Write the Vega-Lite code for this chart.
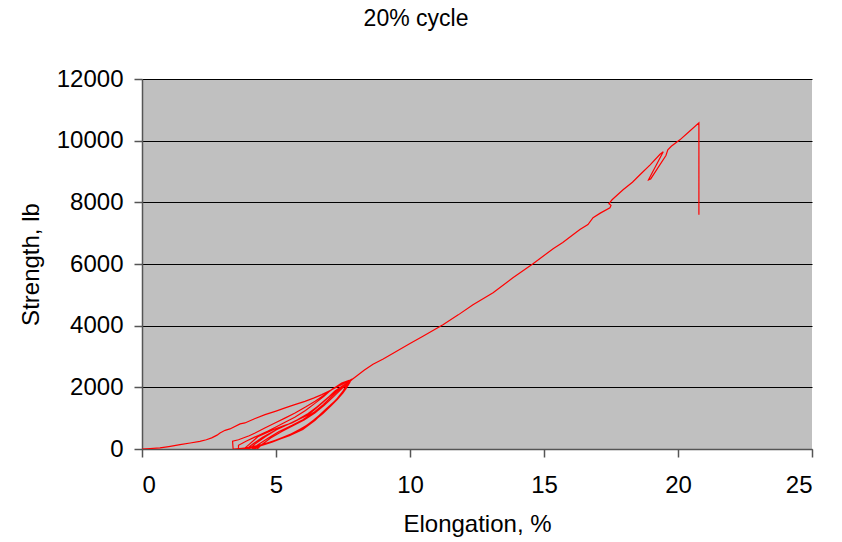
{
  "$schema": "https://vega.github.io/schema/vega-lite/v6.json",
  "width": 670,
  "height": 370,
  "autosize": "none",
  "padding": {"left": 142, "top": 79, "right": 30, "bottom": 92},
  "background": "white",
  "title": {
    "text": "20% cycle",
    "font": "Liberation Sans",
    "fontSize": 23,
    "fontWeight": "normal",
    "color": "black",
    "anchor": "middle",
    "frame": "bounds",
    "baseline": "alphabetic",
    "offset": 18
  },
  "config": {
    "font": "Liberation Sans",
    "view": {"fill": "#C0C0C0", "stroke": null},
    "axis": {
      "labelFont": "Liberation Sans",
      "titleFont": "Liberation Sans",
      "labelFontSize": 24,
      "titleFontSize": 24,
      "titleFontWeight": "normal",
      "labelColor": "black",
      "titleColor": "black",
      "domainColor": "#555555",
      "tickColor": "#555555",
      "tickSize": 8,
      "domainWidth": 1.5,
      "tickWidth": 1.5
    }
  },
  "data": {
    "values": [
      {"i": 0, "e": 0, "s": 0},
      {"i": 1, "e": 0.3, "s": 15},
      {"i": 2, "e": 0.67, "s": 36},
      {"i": 3, "e": 1.0, "s": 80},
      {"i": 4, "e": 1.42, "s": 143},
      {"i": 5, "e": 1.8, "s": 195},
      {"i": 6, "e": 2.16, "s": 250},
      {"i": 7, "e": 2.4, "s": 300},
      {"i": 8, "e": 2.6, "s": 360},
      {"i": 9, "e": 2.8, "s": 450},
      {"i": 10, "e": 2.91, "s": 522},
      {"i": 11, "e": 3.1, "s": 606},
      {"i": 12, "e": 3.28, "s": 651},
      {"i": 13, "e": 3.66, "s": 813},
      {"i": 14, "e": 3.84, "s": 845},
      {"i": 15, "e": 4.2, "s": 980},
      {"i": 16, "e": 4.59, "s": 1115},
      {"i": 17, "e": 5.0, "s": 1230},
      {"i": 18, "e": 5.34, "s": 1332},
      {"i": 19, "e": 5.7, "s": 1440},
      {"i": 20, "e": 6.08, "s": 1546},
      {"i": 21, "e": 6.4, "s": 1650},
      {"i": 22, "e": 6.71, "s": 1763},
      {"i": 23, "e": 7.0, "s": 1890},
      {"i": 24, "e": 7.2, "s": 1980},
      {"i": 25, "e": 7.57, "s": 2142},
      {"i": 26, "e": 7.8, "s": 2250},

      {"i": 27, "e": 7.75, "s": 2150},
      {"i": 28, "e": 7.6, "s": 1950},
      {"i": 29, "e": 7.45, "s": 1800},
      {"i": 30, "e": 7.3, "s": 1650},
      {"i": 31, "e": 7.1, "s": 1450},
      {"i": 32, "e": 6.83, "s": 1250},
      {"i": 33, "e": 6.46, "s": 930},
      {"i": 34, "e": 6.0, "s": 630},
      {"i": 35, "e": 5.5, "s": 430},
      {"i": 36, "e": 5.0, "s": 280},
      {"i": 37, "e": 4.47, "s": 140},
      {"i": 38, "e": 3.9, "s": 40},
      {"i": 39, "e": 3.45, "s": 0},
      {"i": 40, "e": 3.4, "s": 0},
      {"i": 41, "e": 3.38, "s": 250},
      {"i": 42, "e": 3.6, "s": 300},
      {"i": 43, "e": 4.0, "s": 430},
      {"i": 44, "e": 4.22, "s": 520},
      {"i": 45, "e": 4.6, "s": 690},
      {"i": 46, "e": 4.96, "s": 845},
      {"i": 47, "e": 5.35, "s": 1010},
      {"i": 48, "e": 5.71, "s": 1170},
      {"i": 49, "e": 6.1, "s": 1360},
      {"i": 50, "e": 6.46, "s": 1545},
      {"i": 51, "e": 6.8, "s": 1750},
      {"i": 52, "e": 7.08, "s": 1925},
      {"i": 53, "e": 7.45, "s": 2140},
      {"i": 54, "e": 7.7, "s": 2220},

      {"i": 55, "e": 7.68, "s": 2080},
      {"i": 56, "e": 7.55, "s": 1900},
      {"i": 57, "e": 7.4, "s": 1730},
      {"i": 58, "e": 7.2, "s": 1560},
      {"i": 59, "e": 6.95, "s": 1350},
      {"i": 60, "e": 6.6, "s": 1080},
      {"i": 61, "e": 6.2, "s": 790},
      {"i": 62, "e": 5.7, "s": 540},
      {"i": 63, "e": 5.2, "s": 350},
      {"i": 64, "e": 4.7, "s": 200},
      {"i": 65, "e": 4.2, "s": 70},
      {"i": 66, "e": 3.7, "s": 0},
      {"i": 67, "e": 3.6, "s": 0},
      {"i": 68, "e": 3.6, "s": 120},
      {"i": 69, "e": 3.9, "s": 260},
      {"i": 70, "e": 4.34, "s": 440},
      {"i": 71, "e": 4.7, "s": 580},
      {"i": 72, "e": 4.96, "s": 700},
      {"i": 73, "e": 5.3, "s": 850},
      {"i": 74, "e": 5.7, "s": 1030},
      {"i": 75, "e": 6.1, "s": 1250},
      {"i": 76, "e": 6.45, "s": 1480},
      {"i": 77, "e": 6.8, "s": 1720},
      {"i": 78, "e": 7.1, "s": 1950},
      {"i": 79, "e": 7.45, "s": 2120},
      {"i": 80, "e": 7.65, "s": 2180},

      {"i": 81, "e": 7.62, "s": 2050},
      {"i": 82, "e": 7.5, "s": 1880},
      {"i": 83, "e": 7.35, "s": 1700},
      {"i": 84, "e": 7.15, "s": 1500},
      {"i": 85, "e": 6.9, "s": 1300},
      {"i": 86, "e": 6.55, "s": 1030},
      {"i": 87, "e": 6.1, "s": 740},
      {"i": 88, "e": 5.6, "s": 500},
      {"i": 89, "e": 5.1, "s": 320},
      {"i": 90, "e": 4.6, "s": 170},
      {"i": 91, "e": 4.1, "s": 50},
      {"i": 92, "e": 3.75, "s": 0},
      {"i": 93, "e": 3.8, "s": 0},
      {"i": 94, "e": 4.0, "s": 150},
      {"i": 95, "e": 4.34, "s": 410},
      {"i": 96, "e": 4.96, "s": 650},
      {"i": 97, "e": 5.3, "s": 760},
      {"i": 98, "e": 5.59, "s": 845},
      {"i": 99, "e": 5.9, "s": 980},
      {"i": 100, "e": 6.21, "s": 1115},
      {"i": 101, "e": 6.58, "s": 1385},
      {"i": 102, "e": 6.9, "s": 1630},
      {"i": 103, "e": 7.2, "s": 1880},
      {"i": 104, "e": 7.5, "s": 2060},
      {"i": 105, "e": 7.7, "s": 2150},

      {"i": 106, "e": 7.7, "s": 2100},
      {"i": 107, "e": 7.58, "s": 1950},
      {"i": 108, "e": 7.4, "s": 1750},
      {"i": 109, "e": 7.2, "s": 1560},
      {"i": 110, "e": 6.9, "s": 1320},
      {"i": 111, "e": 6.5, "s": 1000},
      {"i": 112, "e": 6.05, "s": 700},
      {"i": 113, "e": 5.5, "s": 450},
      {"i": 114, "e": 5.0, "s": 290},
      {"i": 115, "e": 4.5, "s": 140},
      {"i": 116, "e": 4.0, "s": 30},
      {"i": 117, "e": 3.8, "s": 0},
      {"i": 118, "e": 3.9, "s": 0},
      {"i": 119, "e": 4.1, "s": 140},
      {"i": 120, "e": 4.5, "s": 380},
      {"i": 121, "e": 4.96, "s": 600},
      {"i": 122, "e": 5.4, "s": 780},
      {"i": 123, "e": 5.8, "s": 950},
      {"i": 124, "e": 6.2, "s": 1150},
      {"i": 125, "e": 6.55, "s": 1380},
      {"i": 126, "e": 6.9, "s": 1640},
      {"i": 127, "e": 7.25, "s": 1900},
      {"i": 128, "e": 7.55, "s": 2080},
      {"i": 129, "e": 7.72, "s": 2170},

      {"i": 130, "e": 7.65, "s": 2000},
      {"i": 131, "e": 7.5, "s": 1820},
      {"i": 132, "e": 7.3, "s": 1620},
      {"i": 133, "e": 7.05, "s": 1400},
      {"i": 134, "e": 6.75, "s": 1150},
      {"i": 135, "e": 6.35, "s": 870},
      {"i": 136, "e": 5.9, "s": 620},
      {"i": 137, "e": 5.4, "s": 410},
      {"i": 138, "e": 4.9, "s": 250},
      {"i": 139, "e": 4.4, "s": 110},
      {"i": 140, "e": 4.0, "s": 20},
      {"i": 141, "e": 3.95, "s": 0},
      {"i": 142, "e": 4.0, "s": 0},
      {"i": 143, "e": 4.2, "s": 150},
      {"i": 144, "e": 4.6, "s": 400},
      {"i": 145, "e": 5.0, "s": 620},
      {"i": 146, "e": 5.5, "s": 820},
      {"i": 147, "e": 5.9, "s": 990},
      {"i": 148, "e": 6.3, "s": 1200},
      {"i": 149, "e": 6.65, "s": 1450},
      {"i": 150, "e": 7.0, "s": 1700},
      {"i": 151, "e": 7.3, "s": 1930},
      {"i": 152, "e": 7.6, "s": 2100},
      {"i": 153, "e": 7.75, "s": 2200},

      {"i": 154, "e": 7.72, "s": 2120},
      {"i": 155, "e": 7.6, "s": 1980},
      {"i": 156, "e": 7.45, "s": 1820},
      {"i": 157, "e": 7.25, "s": 1600},
      {"i": 158, "e": 7.0, "s": 1380},
      {"i": 159, "e": 6.7, "s": 1120},
      {"i": 160, "e": 6.3, "s": 850},
      {"i": 161, "e": 5.85, "s": 600},
      {"i": 162, "e": 5.35, "s": 390},
      {"i": 163, "e": 4.85, "s": 220},
      {"i": 164, "e": 4.35, "s": 80},
      {"i": 165, "e": 4.1, "s": 0},
      {"i": 166, "e": 4.15, "s": 0},
      {"i": 167, "e": 4.3, "s": 120},
      {"i": 168, "e": 4.7, "s": 350},
      {"i": 169, "e": 5.1, "s": 560},
      {"i": 170, "e": 5.6, "s": 770},
      {"i": 171, "e": 6.0, "s": 950},
      {"i": 172, "e": 6.4, "s": 1180},
      {"i": 173, "e": 6.75, "s": 1430},
      {"i": 174, "e": 7.1, "s": 1720},
      {"i": 175, "e": 7.4, "s": 1960},
      {"i": 176, "e": 7.65, "s": 2130},
      {"i": 177, "e": 7.78, "s": 2230},

      {"i": 178, "e": 7.7, "s": 2080},
      {"i": 179, "e": 7.55, "s": 1900},
      {"i": 180, "e": 7.35, "s": 1700},
      {"i": 181, "e": 7.1, "s": 1470},
      {"i": 182, "e": 6.8, "s": 1220},
      {"i": 183, "e": 6.4, "s": 920},
      {"i": 184, "e": 5.95, "s": 660},
      {"i": 185, "e": 5.45, "s": 440},
      {"i": 186, "e": 4.95, "s": 270},
      {"i": 187, "e": 4.5, "s": 130},
      {"i": 188, "e": 4.2, "s": 20},
      {"i": 189, "e": 4.25, "s": 0},
      {"i": 190, "e": 4.3, "s": 0},
      {"i": 191, "e": 4.45, "s": 130},
      {"i": 192, "e": 4.8, "s": 360},
      {"i": 193, "e": 5.2, "s": 560},
      {"i": 194, "e": 5.65, "s": 760},
      {"i": 195, "e": 6.05, "s": 940},
      {"i": 196, "e": 6.45, "s": 1170},
      {"i": 197, "e": 6.8, "s": 1420},
      {"i": 198, "e": 7.15, "s": 1700},
      {"i": 199, "e": 7.45, "s": 1950},
      {"i": 200, "e": 7.7, "s": 2150},
      {"i": 201, "e": 7.85, "s": 2260},

      {"i": 202, "e": 8.07, "s": 2411},
      {"i": 203, "e": 8.3, "s": 2560},
      {"i": 204, "e": 8.62, "s": 2750},
      {"i": 205, "e": 9.0, "s": 2920},
      {"i": 206, "e": 9.5, "s": 3170},
      {"i": 207, "e": 10.0, "s": 3420},
      {"i": 208, "e": 10.45, "s": 3643},
      {"i": 209, "e": 11.23, "s": 4032},
      {"i": 210, "e": 11.8, "s": 4350},
      {"i": 211, "e": 12.35, "s": 4680},
      {"i": 212, "e": 13.1, "s": 5069},
      {"i": 213, "e": 13.84, "s": 5555},
      {"i": 214, "e": 14.59, "s": 6009},
      {"i": 215, "e": 15.34, "s": 6495},
      {"i": 216, "e": 15.7, "s": 6700},
      {"i": 217, "e": 16.08, "s": 6949},
      {"i": 218, "e": 16.34, "s": 7120},
      {"i": 219, "e": 16.64, "s": 7280},
      {"i": 220, "e": 16.83, "s": 7500},
      {"i": 221, "e": 17.1, "s": 7650},
      {"i": 222, "e": 17.46, "s": 7824},
      {"i": 223, "e": 17.5, "s": 7900},
      {"i": 224, "e": 17.42, "s": 7960},
      {"i": 225, "e": 17.54, "s": 8083},
      {"i": 226, "e": 17.95, "s": 8407},
      {"i": 227, "e": 18.3, "s": 8650},
      {"i": 228, "e": 18.58, "s": 8893},
      {"i": 229, "e": 18.96, "s": 9217},
      {"i": 230, "e": 19.33, "s": 9560},
      {"i": 231, "e": 19.45, "s": 9640},
      {"i": 232, "e": 18.9, "s": 8730},
      {"i": 233, "e": 18.98, "s": 8760},
      {"i": 234, "e": 19.55, "s": 9520},
      {"i": 235, "e": 19.62, "s": 9700},
      {"i": 236, "e": 19.75, "s": 9820},
      {"i": 237, "e": 20.07, "s": 10027},
      {"i": 238, "e": 20.4, "s": 10280},
      {"i": 239, "e": 20.78, "s": 10580},
      {"i": 240, "e": 20.78, "s": 7600}
    ]
  },
  "mark": {"type": "line", "color": "#FF0000", "strokeWidth": 1.2, "clip": true},
  "encoding": {
    "order": {"field": "i", "type": "quantitative"},
    "x": {
      "field": "e",
      "type": "quantitative",
      "title": "Elongation, %",
      "scale": {"domain": [0, 25], "nice": false, "zero": true},
      "axis": {
        "values": [0, 5, 10, 15, 20, 25],
        "format": "d",
        "grid": false,
        "labelPadding": 16,
        "titlePadding": 15
      }
    },
    "y": {
      "field": "s",
      "type": "quantitative",
      "title": "Strength, lb",
      "scale": {"domain": [0, 12000], "nice": false},
      "axis": {
        "values": [0, 2000, 4000, 6000, 8000, 10000, 12000],
        "format": "d",
        "grid": true,
        "gridColor": "black",
        "gridWidth": 1,
        "gridOpacity": 1,
        "labelPadding": 11,
        "titlePadding": 13
      }
    }
  }
}
